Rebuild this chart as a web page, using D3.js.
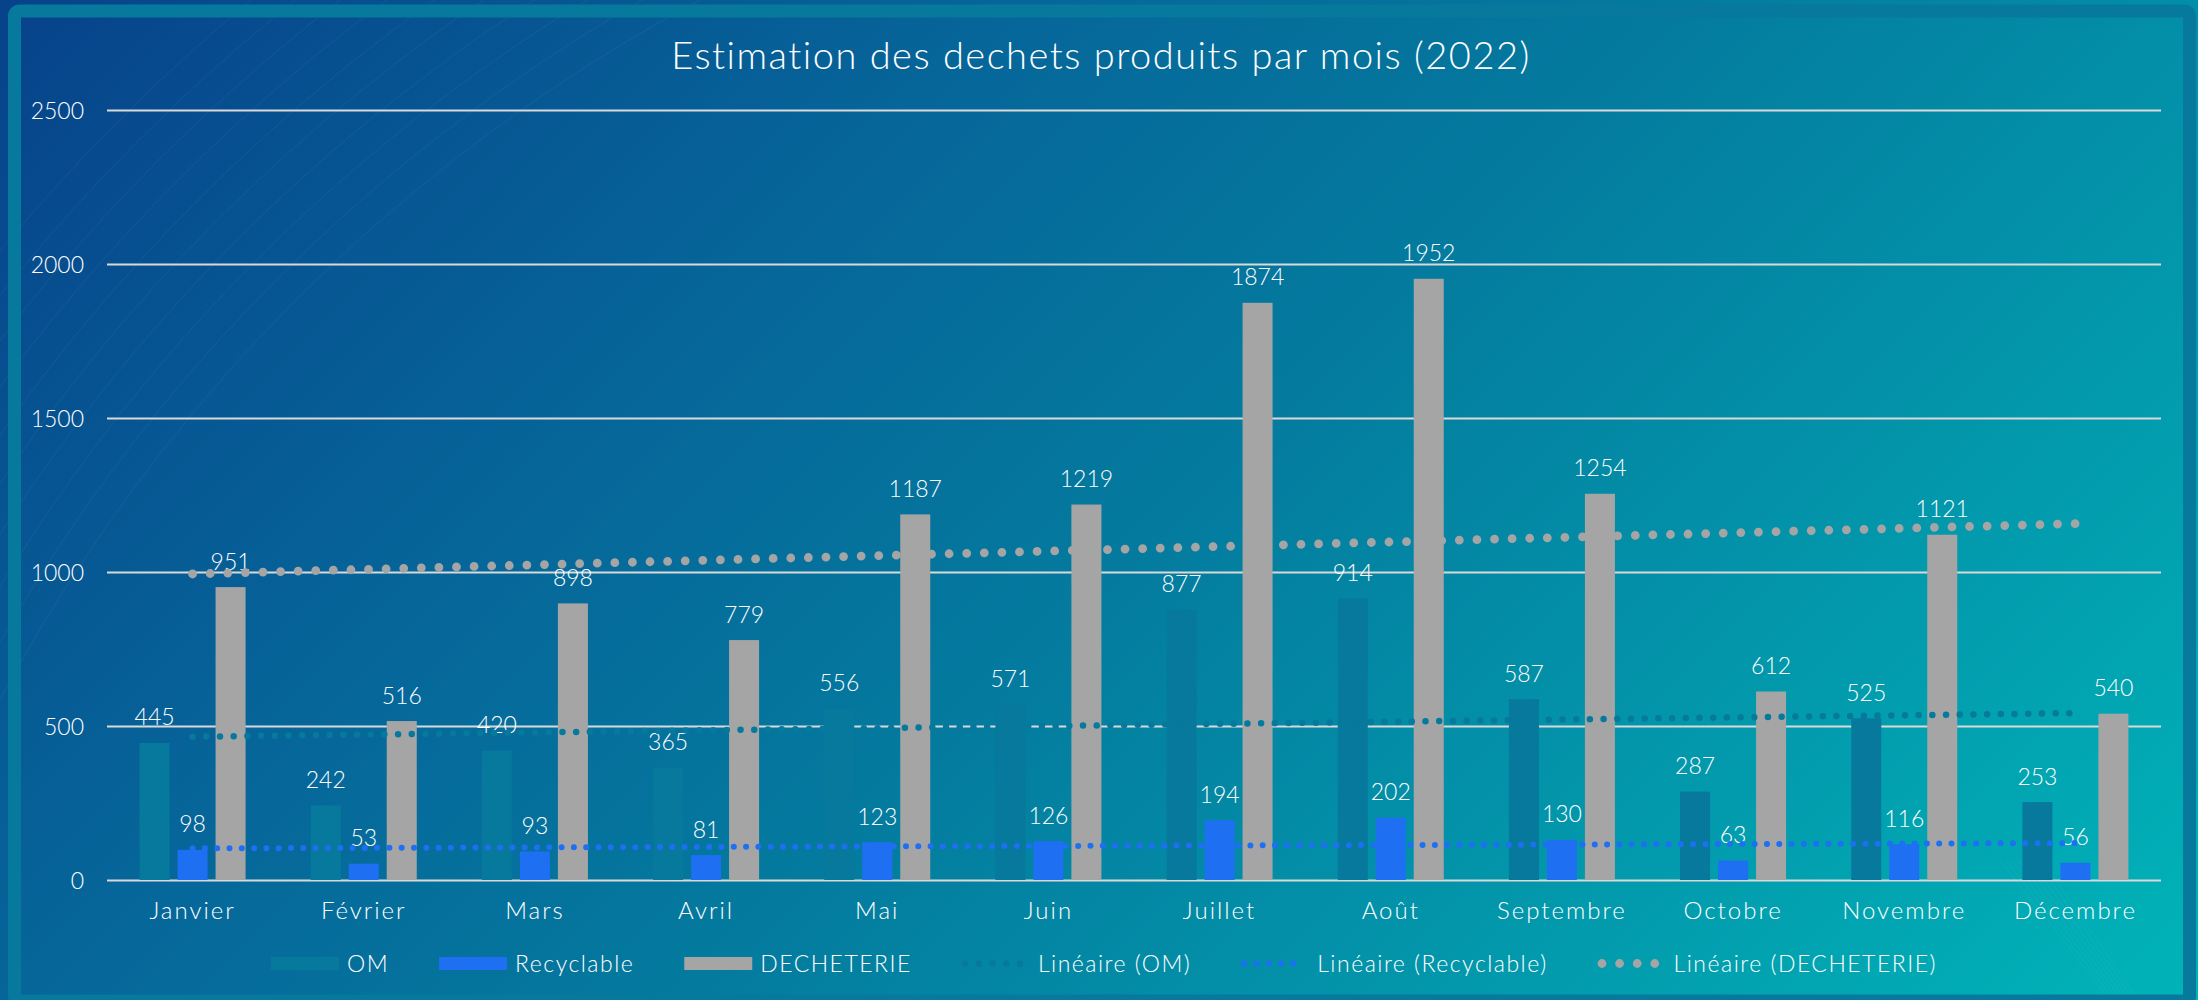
<!DOCTYPE html>
<html>
<head>
<meta charset="utf-8">
<script src="https://cdn.jsdelivr.net/npm/d3@7"></script>
<style>
  html, body { margin: 0; padding: 0; overflow: hidden; }
  svg { display: block; }
  text { font-family: "Lato", "Noto Sans", sans-serif; font-weight: 300; fill: #ffffff; }
</style>
</head>
<body>
<svg id="chart"></svg>
<script>
width = 2198
height = 1000

// data
months = ["Janvier", "Février", "Mars", "Avril", "Mai", "Juin", "Juillet", "Août", "Septembre", "Octobre", "Novembre", "Décembre"]
om = [445, 242, 420, 365, 556, 571, 877, 914, 587, 287, 525, 253]
recyclable = [98, 53, 93, 81, 123, 126, 194, 202, 130, 63, 116, 56]
decheterie = [951, 516, 898, 779, 1187, 1219, 1874, 1952, 1254, 612, 1121, 540]
seriesNames = ["OM", "Recyclable", "DECHETERIE"]
yTicks = [0, 500, 1000, 1500, 2000, 2500]

const colors = { "OM": "#06799d", "Recyclable": "#1f6ff2", "DECHETERIE": "#a5a5a5" }
const series = [
  { name: "OM", values: om },
  { name: "Recyclable", values: recyclable },
  { name: "DECHETERIE", values: decheterie }
]

const svg = d3.select("#chart").attr("width", width).attr("height", height)
const defs = svg.append("defs")

// background gradient (dark blue top left -> teal bottom right)
const grad = defs.append("linearGradient").attr("id", "bg")
  .attr("gradientUnits", "userSpaceOnUse")
  .attr("x1", 0).attr("y1", 0).attr("x2", 1599).attr("y2", 1599)
grad.selectAll("stop")
  .data([[0, "#07428a"], [0.33, "#06679a"], [0.52, "#047a9e"], [0.7, "#0390a8"], [1, "#00b4b9"]])
  .join("stop")
  .attr("offset", d => d[0])
  .attr("stop-color", d => d[1])

svg.append("rect").attr("width", width).attr("height", height).attr("fill", "url(#bg)")

// faint decorative arcs
const deco = svg.append("g").attr("fill", "none").attr("stroke", "#ffffff").attr("stroke-opacity", 0.05)
d3.range(10).forEach(i => {
  deco.append("circle").attr("cx", 1500).attr("cy", 1500).attr("r", 1700 + i * 28)
})
d3.range(8).forEach(i => {
  deco.append("line").attr("x1", 2000 + i * 6).attr("y1", 860).attr("x2", 2110 + i * 4).attr("y2", 1000)
})

// frame
svg.append("rect")
  .attr("x", 14.5).attr("y", 11).attr("width", 2175).attr("height", 990).attr("rx", 5)
  .attr("fill", "none").attr("stroke", "#06799d").attr("stroke-width", 13)

const plot = { left: 107, right: 2161, top: 110, bottom: 880 }

const x = d3.scaleBand().domain(months).range([plot.left, plot.right]).padding(0)
const x1 = d3.scaleBand().domain(seriesNames).range([0, 106]).paddingInner(0.21)
const y = d3.scaleLinear().domain([0, 2500]).range([plot.bottom, plot.top])
const cx = m => x(m) + x.bandwidth() / 2

// title
svg.append("text")
  .attr("x", 1101).attr("y", 69)
  .attr("text-anchor", "middle")
  .style("font-size", "38px")
  .style("letter-spacing", "1.5px")
  .text("Estimation des dechets produits par mois (2022)")

// grid + y labels
const yAxis = svg.append("g")
  .call(d3.axisLeft(y).tickValues(yTicks).tickFormat(d3.format("d"))
    .tickSize(-(plot.right - plot.left)).tickPadding(23))
  .attr("transform", `translate(${plot.left},0)`)
yAxis.select(".domain").remove()
yAxis.selectAll(".tick line").attr("stroke", "#d9d9d9").attr("stroke-width", 2)
yAxis.selectAll(".tick text").attr("fill", "#ffffff").attr("font-family", null).style("font-size", "23px").attr("dy", "0.36em")

// x labels
const xAxis = svg.append("g")
  .call(d3.axisBottom(x).tickSize(0).tickPadding(0))
  .attr("transform", `translate(0,${plot.bottom})`)
xAxis.select(".domain").remove()
xAxis.selectAll(".tick text").attr("fill", "#ffffff").attr("font-family", null)
  .style("font-size", "24px").style("letter-spacing", "2px")
  .attr("y", 39).attr("dy", 0)

// bars
const groups = svg.append("g").selectAll("g")
  .data(months)
  .join("g")
  .attr("transform", m => `translate(${cx(m) - 53},0)`)

groups.selectAll("rect")
  .data((m, i) => series.map(s => ({ name: s.name, value: s.values[i] })))
  .join("rect")
  .attr("x", d => x1(d.name))
  .attr("width", x1.bandwidth())
  .attr("y", d => y(d.value))
  .attr("height", d => y(0) - y(d.value))
  .attr("fill", d => colors[d.name])

// data labels
groups.selectAll("text.lbl")
  .data((m, i) => series.map(s => ({ name: s.name, value: s.values[i] })))
  .join("text")
  .attr("class", "lbl")
  .attr("x", d => x1(d.name) + x1.bandwidth() / 2)
  .attr("y", d => y(d.value) - 17.5)
  .attr("text-anchor", "middle")
  .style("font-size", "23px")
  .text(d => d.value)

// linear trend lines (least squares, like Excel's "Linéaire")
function linReg(values) {
  const n = values.length
  const mx = d3.mean(d3.range(n))
  const my = d3.mean(values)
  const sxy = d3.sum(values, (v, i) => (i - mx) * (v - my))
  const sxx = d3.sum(d3.range(n), i => (i - mx) * (i - mx))
  const b = sxy / sxx
  return [my - b * mx, my + b * (n - 1 - mx)]
}

const trendStyle = {
  "OM": { w: 6.5, gap: 13.7 },
  "Recyclable": { w: 6, gap: 12.3 },
  "DECHETERIE": { w: 8.8, gap: 17.6 }
}

series.forEach(s => {
  const [a, b] = linReg(s.values)
  const st = trendStyle[s.name]
  svg.append("line")
    .attr("x1", cx(months[0])).attr("y1", y(a))
    .attr("x2", cx(months[months.length - 1])).attr("y2", y(b))
    .attr("stroke", colors[s.name])
    .attr("stroke-width", st.w)
    .attr("stroke-linecap", "round")
    .attr("stroke-dasharray", `0 ${st.gap}`)
})

// legend
const legendItems = [
  { label: "OM", name: "OM", kind: "bar" },
  { label: "Recyclable", name: "Recyclable", kind: "bar" },
  { label: "DECHETERIE", name: "DECHETERIE", kind: "bar" },
  { label: "Linéaire (OM)", name: "OM", kind: "trend" },
  { label: "Linéaire (Recyclable)", name: "Recyclable", kind: "trend" },
  { label: "Linéaire (DECHETERIE)", name: "DECHETERIE", kind: "trend" }
]
const legend = svg.append("g")
let lx = 0
legendItems.forEach(item => {
  const g = legend.append("g").attr("transform", `translate(${lx},0)`)
  if (item.kind === "bar") {
    g.append("rect").attr("x", 0).attr("y", 957).attr("width", 68).attr("height", 13).attr("fill", colors[item.name])
  } else {
    const st = trendStyle[item.name]
    g.append("line").attr("x1", st.w / 2).attr("x2", 64).attr("y1", 963.5).attr("y2", 963.5)
      .attr("stroke", colors[item.name]).attr("stroke-width", st.w)
      .attr("stroke-linecap", "round").attr("stroke-dasharray", `0 ${st.gap}`)
  }
  const t = g.append("text").attr("x", 76).attr("y", 972)
    .style("font-size", "23px").style("letter-spacing", "1.5px").text(item.label)
  lx += 76 + t.node().getComputedTextLength() + 50
})
const legendWidth = lx - 50
legend.attr("transform", `translate(${1104 - legendWidth / 2},0)`)
</script>
</body>
</html>
